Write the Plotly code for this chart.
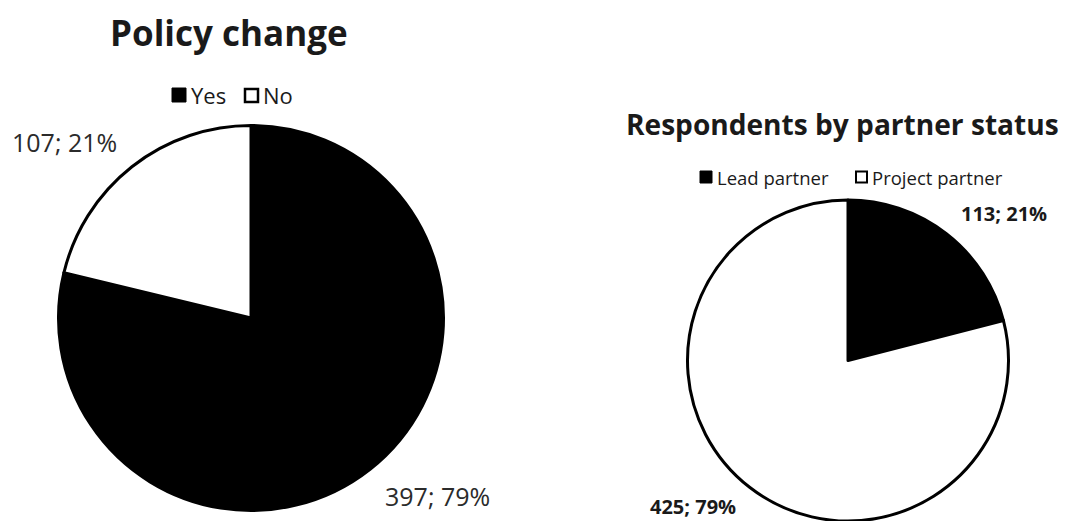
import plotly.graph_objects as go

# --- data ---------------------------------------------------------------
policy_labels = ["Yes", "No"]
policy_values = [397, 107]

partner_labels = ["Lead partner", "Project partner"]
partner_values = [113, 425]

slice_colors = ["#000000", "#ffffff"]

W, H = 1072, 521
FONT = "Open Sans"
TEXT = "#1a1a1a"


def px_x(x):
    return x / W


def px_y(y):
    return 1 - y / H


def square_domain(cx, cy, r):
    return dict(x=[px_x(cx - r), px_x(cx + r)],
                y=[px_y(cy + r), px_y(cy - r)])


def value_label(values, i):
    pct = round(100 * values[i] / sum(values))
    return f"{values[i]}; {pct}%"


fig = go.Figure()

fig.add_trace(go.Pie(
    labels=policy_labels, values=policy_values,
    marker=dict(colors=slice_colors, line=dict(color="#000000", width=3)),
    sort=False, direction="clockwise", rotation=0,
    textinfo="none", hoverinfo="label+value+percent",
    domain=square_domain(251, 318, 192.5), showlegend=False,
))

fig.add_trace(go.Pie(
    labels=partner_labels, values=partner_values,
    marker=dict(colors=slice_colors, line=dict(color="#000000", width=3)),
    sort=False, direction="clockwise", rotation=0,
    textinfo="none", hoverinfo="label+value+percent",
    domain=square_domain(848, 360.5, 160.5), showlegend=False,
))

annotations = []
shapes = []


def text_at(x, y, text, size, bold=False, xanchor="center", color=TEXT):
    annotations.append(dict(
        x=px_x(x), y=px_y(y), xref="paper", yref="paper",
        text=f"<b>{text}</b>" if bold else text,
        showarrow=False, xanchor=xanchor, yanchor="middle",
        font=dict(family=FONT, size=size, color=color),
    ))


def legend_box(x0, y0, x1, y1, filled, lw):
    shapes.append(dict(
        type="rect", xref="paper", yref="paper",
        x0=px_x(x0), x1=px_x(x1), y0=px_y(y1), y1=px_y(y0),
        fillcolor="#000000" if filled else "#ffffff",
        line=dict(color="#000000", width=lw),
    ))


# titles
text_at(229, 32, "Policy change", 35, bold=True)
text_at(842, 124, "Respondents by partner status", 28.1, bold=True)

# legend for the policy pie
legend_box(172, 88, 186, 102, True, 1)
text_at(189, 95, policy_labels[0], 22, xanchor="left")
legend_box(245, 89, 258, 102, False, 2.5)
text_at(261, 95, policy_labels[1], 22, xanchor="left")

# legend for the partner pie
legend_box(700, 171, 712, 183, True, 1)
text_at(715, 177, partner_labels[0], 18.5, xanchor="left")
legend_box(856, 171.5, 867, 182.5, False, 2)
text_at(870, 177, partner_labels[1], 18.5, xanchor="left")

# value labels
text_at(64, 142, value_label(policy_values, 1), 25, color="#2b2b2b")
text_at(437, 496, value_label(policy_values, 0), 25, color="#2b2b2b")
text_at(1004, 213, value_label(partner_values, 0), 20, bold=True)
text_at(693, 506, value_label(partner_values, 1), 20, bold=True)

fig.update_layout(
    width=W, height=H,
    margin=dict(l=0, r=0, t=0, b=0),
    paper_bgcolor="#ffffff", plot_bgcolor="#ffffff",
    font=dict(family=FONT, color=TEXT),
    annotations=annotations, shapes=shapes,
)

fig.write_html("out.html")
